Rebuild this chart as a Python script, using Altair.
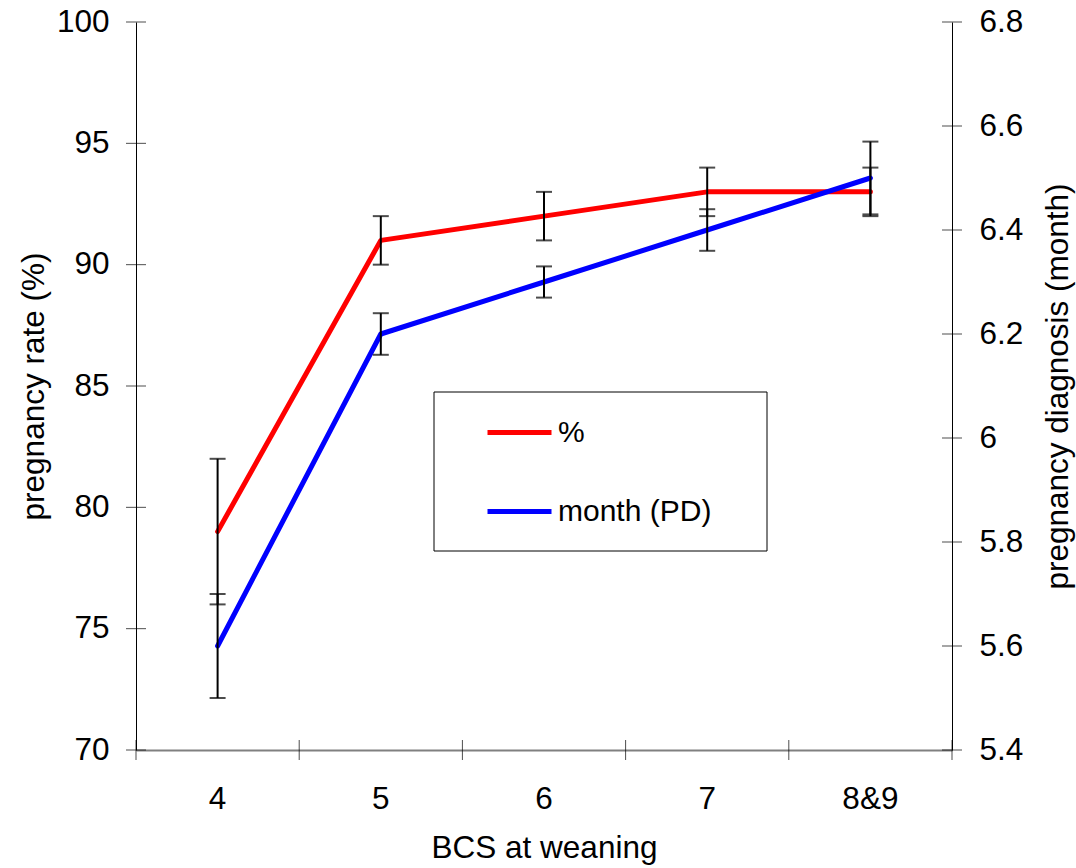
import altair as alt
import pandas as pd

# Body condition score groups at weaning
bcs = ["4", "5", "6", "7", "8&9"]

# Pregnancy rate (%) with +/- error
rate_pct = [79, 91, 92, 93, 93]
rate_err = [3, 1, 1, 1, 1]

# Month of pregnancy diagnosis with +/- error
pd_month = [5.6, 6.2, 6.3, 6.4, 6.5]
pd_err = [0.1, 0.04, 0.03, 0.04, 0.07]

series_names = ["%", "month (PD)"]
series_colors = ["#ff0000", "#0000ff"]

rate_ticks = [70, 75, 80, 85, 90, 95, 100]
month_ticks = [5.4, 5.6, 5.8, 6.0, 6.2, 6.4, 6.6, 6.8]

FONT = "Liberation Sans"
FS = 31.5
W, H = 816, 728

rate_df = pd.DataFrame({
    "bcs": bcs,
    "value": rate_pct,
    "lo": [v - e for v, e in zip(rate_pct, rate_err)],
    "hi": [v + e for v, e in zip(rate_pct, rate_err)],
    "series": series_names[0],
})
month_df = pd.DataFrame({
    "bcs": bcs,
    "value": pd_month,
    "lo": [v - e for v, e in zip(pd_month, pd_err)],
    "hi": [v + e for v, e in zip(pd_month, pd_err)],
    "series": series_names[1],
})
cat_df = pd.DataFrame({"bcs": bcs})
last_df = pd.DataFrame({"bcs": bcs[-1:]})
rate_tick_df = pd.DataFrame({"tick": rate_ticks})
month_tick_df = pd.DataFrame({"tick": month_ticks})

x_scale = alt.Scale(type="band", domain=bcs, paddingInner=0, paddingOuter=0)
x_axis = alt.Axis(
    title="BCS at weaning", labelAngle=0, ticks=False, grid=False,
    domainColor="#808080", domainWidth=2,
    labelPadding=33, titlePadding=18,
)


def xenc(pos=0.5):
    return alt.X("bcs:N", scale=x_scale, sort=bcs, bandPosition=pos, axis=x_axis)


left_scale = alt.Scale(domain=[70, 100], nice=False, zero=False)
left_axis = alt.Axis(
    title="pregnancy rate (%)", values=rate_ticks, ticks=False, grid=False,
    domainColor="#000000", labelPadding=27, titlePadding=6,
)
right_scale = alt.Scale(domain=[5.4, 6.8], nice=False, zero=False)
right_axis = alt.Axis(
    title="pregnancy diagnosis (month)", orient="right", values=month_ticks,
    format=".1~f", ticks=False, grid=False, domainColor="#000000",
    labelPadding=27, titlePadding=20, titleAngle=270, titleBaseline="top",
)

color = alt.Color(
    "series:N",
    scale=alt.Scale(domain=series_names, range=series_colors),
    legend=alt.Legend(
        orient="none", legendX=349, legendY=376, title=None,
        symbolType="stroke", symbolSize=4096, symbolStrokeWidth=5,
        labelFontSize=30, labelFont=FONT, labelColor="#000000",
        labelOffset=4, padding=0, rowPadding=29, symbolOffset=0,
    ),
)


def series_layers(df, scale, axis):
    y = alt.Y("value:Q", scale=scale, axis=axis)
    line = alt.Chart(df).mark_line(strokeWidth=5, strokeCap="round", strokeJoin="round").encode(
        x=xenc(), y=y, color=color
    )
    bar = alt.Chart(df).mark_rule(color="#000000", strokeWidth=2).encode(
        x=xenc(), y=alt.Y("lo:Q", scale=scale, axis=axis), y2="hi:Q"
    )
    cap_lo = alt.Chart(df).mark_tick(color="#000000", thickness=2, size=16, orient="horizontal").encode(
        x=xenc(), y=alt.Y("lo:Q", scale=scale, axis=axis)
    )
    cap_hi = alt.Chart(df).mark_tick(color="#000000", thickness=2, size=16, orient="horizontal").encode(
        x=xenc(), y=alt.Y("hi:Q", scale=scale, axis=axis)
    )
    return [line, bar, cap_lo, cap_hi]


# Legend frame
legend_frame = alt.Chart(cat_df.head(1)).mark_rect(
    fill="#ffffff", stroke="#000000", strokeWidth=1
).encode(
    x=alt.value(298), x2=alt.value(631), y=alt.value(370), y2=alt.value(529)
)

# Tick marks that cross the axis lines
left_ticks = alt.Chart(rate_tick_df).mark_tick(color="#000000", thickness=1, size=20, orient="horizontal").encode(
    x=alt.value(0), y=alt.Y("tick:Q", scale=left_scale, axis=left_axis)
)
right_ticks = alt.Chart(month_tick_df).mark_tick(color="#000000", thickness=1, size=20, orient="horizontal").encode(
    x=alt.value(W), y=alt.Y("tick:Q", scale=right_scale, axis=right_axis)
)
x_ticks = alt.Chart(cat_df).mark_tick(color="#000000", thickness=1, size=20, orient="vertical").encode(
    x=xenc(0), y=alt.value(H)
)
x_tick_end = alt.Chart(last_df).mark_tick(color="#000000", thickness=1, size=20, orient="vertical").encode(
    x=xenc(1), y=alt.value(H)
)

left = alt.layer(legend_frame, x_ticks, x_tick_end, left_ticks,
                 *series_layers(rate_df, left_scale, left_axis))
right = alt.layer(right_ticks, *series_layers(month_df, right_scale, right_axis))

chart = (
    alt.layer(left, right)
    .resolve_scale(y="independent")
    .properties(
        width=W, height=H,
        autosize=alt.AutoSizeParams(type="none"),
        padding={"left": 136, "top": 22, "right": 124, "bottom": 118},
        background="#ffffff",
    )
    .configure_view(stroke=None)
    .configure_axis(
        labelFont=FONT, titleFont=FONT, labelFontSize=FS, titleFontSize=FS,
        labelColor="#000000", titleColor="#000000", titleFontWeight="normal",
    )
)

chart.save("out.html", embed_options={"renderer": "svg", "actions": False})
